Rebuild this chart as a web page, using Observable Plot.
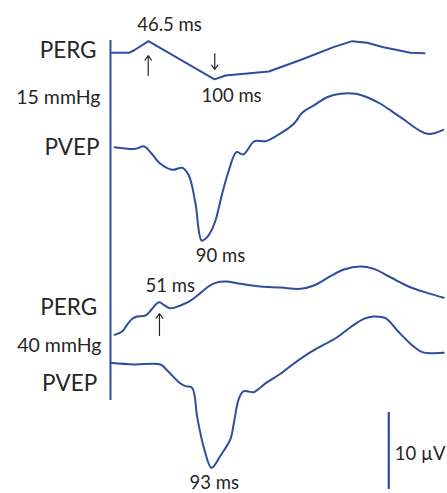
<!DOCTYPE html>
<html>
<head>
<meta charset="utf-8">
<script src="https://cdn.jsdelivr.net/npm/d3@7"></script>
<script src="https://cdn.jsdelivr.net/npm/@observablehq/plot@0.6"></script>
<style>
  html, body { margin: 0; padding: 0; background: #fff; }
  #chart { width: 447px; height: 493px; }
</style>
</head>
<body>
<div id="chart"></div>
<script>
// ---- Data (time in ms, amplitude in µV relative to each trace's start) ----
const pergLowT  = [16.5, 30.6, 34.6, 46.5, 100, 108.9, 144.0, 169.7, 196.4, 211.6, 223.7, 237.0, 258.8, 270.1];
const pergLowV  = [0, 0, 0.3, 1.51, -3.45, -2.95, -2.43, -0.94, 0.73, 1.51, 1.30, 0.73, 0, -0.05];

const pvepLowT  = [19.0, 36.0, 42.7, 48.1, 56.2, 65.7, 73.8, 79.2, 84.6, 89.5, 92.7, 96.8, 100.8, 106.2, 111.6, 117.8, 123.3, 132.4, 141.3, 150.8, 164.3, 171.1, 180.5, 191.3, 202.1, 214.3, 223.7, 234.5, 250.7, 272.4, 285.3];
const pvepLowV  = [0, -0.21, 0.13, -0.65, -2.16, -2.94, -2.68, -3.68, -7.35, -12.12, -11.9, -11.04, -9.52, -6.05, -3.03, -0.65, -0.95, 0.78, 0.78, 1.52, 3.04, 4.47, 5.42, 6.49, 6.94, 6.94, 6.49, 5.64, 3.90, 1.74, 2.26];

const pergHighT = [19.0, 25.2, 28.7, 33.3, 37.4, 44.1, 49.5, 54.9, 58.9, 63.8, 72.4, 80.6, 88.7, 95.4, 100.8, 108.9, 121.1, 137.3, 153.5, 169.7, 180.5, 194.0, 204.8, 218.3, 229.1, 242.6, 258.8, 272.4, 285.8];
const pergHighV = [0, 0.43, 1.21, 2.08, 2.38, 2.51, 3.38, 4.23, 3.90, 3.45, 3.81, 4.45, 5.45, 6.31, 6.75, 6.92, 6.62, 6.27, 6.14, 5.97, 6.40, 7.61, 8.48, 8.87, 8.57, 7.48, 6.18, 5.45, 4.81];

const pvepHighT = [15.7, 34.6, 56.2, 61.7, 71.1, 76.5, 81.9, 86.0, 91.3, 97.6, 104.9, 113.0, 115.6, 119.7, 123.7, 131.8, 135.9, 142.7, 153.5, 163.0, 177.8, 199.4, 210.2, 221.0, 229.1, 238.6, 248.1, 258.8, 268.3, 276.4, 285.8];
const pvepHighV = [0, -0.22, -0.22, -1.0, -2.52, -3.04, -3.25, -7.06, -10.96, -13.64, -12.04, -9.87, -7.92, -4.68, -3.69, -3.82, -3.38, -2.52, -1.43, -0.26, 1.38, 3.32, 4.62, 5.71, 6.01, 5.79, 4.19, 2.47, 1.38, 1.25, 1.30];

const traceNames = ["PERG", "PVEP", "PERG", "PVEP"];
const pressureLabels = ["15 mmHg", "40 mmHg"];
const latencyLabels = ["46.5 ms", "100 ms", "90 ms", "51 ms", "93 ms"];
const scaleBarValue = 10; // µV

// ---- Layout (vertical offsets of each trace, µV below top) ----
const offsets = [6.79, 19.05, 43.42, 47.05];
const traces = [[pergLowT, pergLowV], [pvepLowT, pvepLowV], [pergHighT, pergHighV], [pvepHighT, pvepHighV]];
const lineData = traces.flatMap(([T, V], k) => T.map((t, i) => ({k, t, y: V[i] - offsets[k]})));

const blue = "#2f4d9c";
const ink = "#262626";
const BIG = 22.5, SMALL = 18.5, MID = 19.5;

const labels = [
  {text: traceNames[0], t: 4.4, y: -7.44, anchor: "end", size: BIG},
  {text: pressureLabels[0], t: 7.6, y: -13.5, anchor: "end", size: MID},
  {text: traceNames[1], t: 6.8, y: -20.0, anchor: "end", size: BIG},
  {text: traceNames[2], t: 4.9, y: -40.78, anchor: "end", size: BIG},
  {text: pressureLabels[1], t: 8.4, y: -45.68, anchor: "end", size: MID},
  {text: traceNames[3], t: 4.9, y: -50.74, anchor: "end", size: BIG},
  {text: latencyLabels[0], t: 63.5, y: -3.9, anchor: "middle", size: SMALL},
  {text: latencyLabels[1], t: 113.8, y: -13.2, anchor: "middle", size: SMALL},
  {text: latencyLabels[2], t: 104.9, y: -33.99, anchor: "middle", size: SMALL},
  {text: latencyLabels[3], t: 64.1, y: -37.88, anchor: "middle", size: SMALL},
  {text: latencyLabels[4], t: 99.8, y: -63.5, anchor: "middle", size: SMALL},
  {text: `${scaleBarValue} µV`, t: 246.1, y: -59.74, anchor: "start", size: SMALL}
];

const arrows = [
  {t: 46.3, y1: -9.74, y2: -7.14},
  {t: 100.2, y1: -6.88, y2: -8.96},
  {t: 55.4, y1: -43.5, y2: -40.65}
];

const textMarks = ["start", "middle", "end"].flatMap(a => [SMALL, MID, BIG].map(sz =>
  Plot.text(labels.filter(d => d.size === sz && d.anchor === a),
    {x: "t", y: "y", text: "text", textAnchor: a, lineAnchor: "bottom", fontSize: sz, fill: ink})));

const chart = Plot.plot({
  width: 447,
  height: 493,
  margin: 0,
  x: {domain: [0, 300], range: [90.6, 460.8], axis: null},
  y: {domain: [-64, 0], range: [492.8, 0], axis: null},
  style: {fontFamily: "Lato, 'Open Sans', sans-serif", background: "#fff", color: ink},
  marks: [
    Plot.ruleX([15.7], {y1: -5.19, y2: -51.95, stroke: blue, strokeWidth: 2}),
    Plot.ruleX([241.2], {y1: -63.5, y2: -63.5 + scaleBarValue, stroke: blue, strokeWidth: 2.2}),
    Plot.line(lineData.filter(d => d.k === 0), {x: "t", y: "y", stroke: blue, strokeWidth: 2, strokeLinejoin: "round"}),
    Plot.line(lineData.filter(d => d.k !== 0), {x: "t", y: "y", z: "k", stroke: blue, strokeWidth: 2, curve: "catmull-rom", strokeLinejoin: "round"}),
    Plot.arrow(arrows, {x1: "t", x2: "t", y1: "y1", y2: "y2", stroke: ink, strokeWidth: 1.2, headLength: 7, headAngle: 70}),
    ...textMarks
  ]
});
document.getElementById("chart").appendChild(chart);
</script>
</body>
</html>
